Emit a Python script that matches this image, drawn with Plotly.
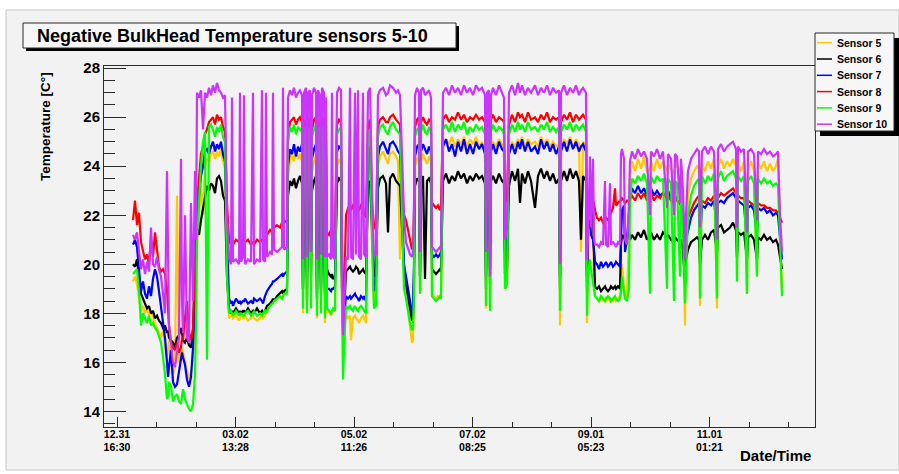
import plotly.graph_objects as go

# Elapsed logging time (log-time units; one major tick every 118.5 units)
elapsed = [
    # start-up
    16, 18, 20, 22, 24, 26, 28, 30, 32, 34, 36, 38, 40, 42,
    # unstable period
    44, 46, 48, 50, 51, 52, 54, 56, 58, 60, 62, 64, 65, 66, 68, 70, 72, 74, 76, 78, 79, 80, 82,
    # first warm period
    84, 86, 88, 90, 92, 94, 96, 98, 100, 102, 104, 106, 108, 110,
    # cool period
    112, 114, 115, 116, 119, 122, 123, 124, 126, 127, 128, 131, 134, 136, 137, 140, 143, 145, 146,
    148, 149, 150, 153, 155, 156, 157, 160, 163, 165, 166, 167, 170,
    # warm
    171, 173, 175, 177, 179, 181, 183, 185, 186, 187,
    # switching
    189, 190, 191, 193, 194, 195, 197, 199, 200, 201, 203, 204, 205, 207, 208, 209, 210, 212,
    214, 215, 216, 218, 220, 222, 224, 225, 226, 227,
    # cool
    229, 231, 233, 234, 236, 238, 239, 241, 242, 244, 246, 247, 249,
    # warm
    251, 253, 255, 257, 259, 261, 263, 266, 269, 271, 273, 276, 279, 281, 283,
    # fall
    285, 287, 289, 291, 293, 295, 296, 297,
    # warm
    298, 300, 302, 303, 304, 306, 308, 310, 312, 314,
    # short cool
    315, 317, 319, 321, 323, 324,
    # long warm
    326, 329, 332, 335, 338, 341, 344, 347, 350, 353, 356, 359, 362, 365, 368, 369, 370, 372, 373, 374,
    # warm
    376, 379, 382, 385, 387, 388, 390, 392,
    # warm
    395, 398, 401, 403, 405, 408, 411, 414, 418, 421, 424, 427, 430, 433, 436, 439, 442, 443, 444,
    # warm
    447, 450, 453, 456, 459, 462, 464, 466, 469, 470,
    # transition
    471, 473, 474, 476, 477, 478,
    # cool
    480, 482, 484, 486, 488, 489, 491, 493, 494, 496, 498, 499, 501, 503,
    # climb
    504, 505, 507, 508, 510, 512, 513,
    # mild period
    515, 518, 521, 524, 527, 530, 533, 534, 537, 540, 543, 546, 550, 551, 554, 557, 558, 560, 563, 564,
    # trough
    566, 568, 569, 571, 574, 577, 580, 582, 583,
    # mild period, end of run
    585, 588, 591, 594, 597, 600, 601, 604, 607, 610, 613, 616, 619, 620, 621, 624, 627, 630,
    631, 634, 637, 640, 641, 644, 647, 650, 653, 656, 659, 661, 663, 665,
]

sensor5 = [
    19.3, 19.5, 19.2, 18.6, 18.1, 18.3, 18.0, 18.2, 17.9, 18.1, 17.8, 17.6, 17.4, 17.2,
    17.0, 17.3, 16.8, 16.2, 16.5, 16.9, 16.0, 15.5, 15.8, 22.8, 16.0, 16.2, 16.6, 16.4, 16.0, 15.6, 15.3, 15.6, 16.2, 17.5, 19.5, 20.8, 22.0,
    23.2, 22.0, 24.0, 24.3, 24.2, 24.5, 24.6, 24.3, 24.6, 24.4, 24.7, 24.2, 23.9, 20.0,
    17.8, 17.9, 18.0, 17.8, 17.9, 17.7, 17.8, 17.9, 17.8, 17.8, 17.9, 17.7, 17.8, 17.9, 17.8, 17.7, 17.8, 17.9, 17.8,
    17.9, 18.0, 18.1, 18.3, 18.4, 18.5, 18.5, 18.6, 18.7, 18.6, 18.7, 18.8, 18.9,
    23.5, 24.3, 24.5, 24.2, 24.6, 24.3, 24.5, 24.2, 18.0, 24.0,
    24.3, 18.1, 24.1, 24.4, 19.0, 23.8, 24.2, 24.4, 17.8, 24.3, 24.5, 18.2, 24.2, 24.4, 17.6, 23.9, 18.0, 18.1,
    17.9, 18.0, 18.1, 18.2, 24.0, 24.3, 24.1, 18.5, 17.2, 17.5,
    17.9, 17.8, 17.9, 16.9, 17.8, 17.9, 17.8, 17.7, 17.6, 17.8, 17.9, 17.8, 17.6,
    24.0, 24.3, 21.0, 18.3, 18.4, 24.0, 24.4, 24.6, 24.3, 24.1, 24.5, 24.6, 24.4, 24.2, 20.2,
    22.0, 19.5, 18.8, 18.2, 17.6, 16.8, 16.9, 19.0,
    24.0, 24.3, 24.4, 18.8, 24.2, 24.5, 24.3, 24.1, 24.4, 24.2,
    18.8, 18.7, 18.6, 18.7, 18.6, 18.8,
    24.8, 25.1, 24.9, 25.2, 24.8, 25.1, 24.9, 25.2, 24.8, 25.1, 24.9, 25.2, 24.8, 25.0, 24.6, 18.2, 24.7, 24.9, 18.5, 24.8,
    25.0, 24.8, 25.1, 24.9, 24.7, 19.0, 19.2, 24.5,
    25.0, 24.8, 25.1, 24.9, 25.2, 24.8, 25.1, 24.9, 25.0, 24.8, 25.2, 24.9, 25.1, 24.8, 25.0, 24.8, 24.9, 17.5, 24.7,
    25.1, 24.9, 25.2, 24.8, 25.1, 24.9, 20.5, 25.0, 24.8, 17.6,
    21.0, 22.0, 21.5, 21.2, 19.5, 18.7,
    18.6, 18.5, 18.6, 18.5, 18.6, 18.5, 18.6, 18.5, 18.6, 18.5, 18.6, 18.5, 18.6, 18.7,
    19.5, 20.0, 19.0, 18.6, 18.8, 21.0, 23.5,
    24.2, 23.8, 24.3, 23.9, 24.4, 23.8, 23.9, 24.2, 23.8, 24.3, 23.9, 24.2, 23.8, 24.1, 23.9, 23.7, 24.1, 24.0, 23.8, 24.0,
    22.0, 17.5, 20.5, 22.8, 23.5, 23.8, 24.0, 23.9, 18.3,
    24.1, 23.8, 24.2, 23.9, 24.3, 18.2, 24.0, 24.3, 23.9, 24.2, 24.0, 24.3, 24.0, 19.3, 24.1, 23.8, 24.2, 18.8,
    23.9, 24.2, 23.8, 19.5, 24.1, 23.9, 24.2, 23.8, 24.1, 23.8, 24.0, 24.3, 21.5, 19.0,
]

sensor6 = [
    20.0, 19.9, 20.2, 19.5, 18.8, 18.6, 18.4, 18.2, 18.3, 18.0, 18.1, 17.8, 17.9, 17.7,
    17.6, 17.4, 17.5, 17.2, 17.3, 17.0, 16.9, 16.8, 16.6, 17.0, 17.1, 17.4, 17.2, 16.9, 16.8, 17.0, 16.7, 16.6, 17.2, 19.5, 21.3, 21.5, 21.2,
    21.8, 22.3, 22.8, 23.2, 23.0, 23.3, 23.2, 22.9, 23.5, 23.6, 23.4, 22.8, 22.6, 19.5,
    18.2, 18.0, 18.1, 18.0, 18.2, 18.0, 18.1, 18.0, 18.1, 18.1, 18.0, 18.2, 18.0, 18.1, 18.0, 18.2, 18.0, 18.1, 18.0,
    18.1, 18.2, 18.3, 18.4, 18.5, 18.6, 18.5, 18.7, 18.8, 18.9, 18.8, 18.9, 19.0,
    22.8, 23.4, 23.2, 23.5, 23.1, 23.4, 23.6, 23.3, 19.0, 23.2,
    23.4, 18.5, 23.3, 23.5, 19.5, 23.0, 23.4, 23.6, 18.6, 23.5, 23.2, 18.8, 23.3, 23.5, 18.7, 23.0, 19.8, 19.6,
    19.5, 19.6, 19.4, 19.5, 23.3, 23.5, 23.4, 19.0, 17.6, 18.0,
    19.7, 19.8, 19.9, 19.8, 19.7, 19.8, 19.9, 19.8, 19.6, 19.7, 19.8, 19.7, 19.6,
    23.2, 23.4, 21.5, 19.5, 19.6, 23.1, 23.5, 23.6, 23.3, 21.3, 23.5, 23.7, 23.4, 23.3, 23.2,
    21.5, 19.8, 19.2, 18.7, 18.2, 17.7, 17.8, 19.5,
    23.2, 23.5, 23.4, 19.5, 23.3, 23.6, 19.4, 23.4, 23.5, 23.3,
    19.8, 19.7, 19.6, 19.7, 19.8, 19.7,
    23.4, 23.7, 23.3, 23.6, 23.4, 23.8, 23.5, 23.7, 23.3, 23.6, 23.4, 23.7, 23.5, 23.6, 23.3, 19.0, 23.4, 23.5, 19.2, 23.4,
    23.6, 23.3, 23.7, 23.4, 23.3, 19.6, 19.8, 23.2,
    23.8, 23.4, 23.9, 22.5, 23.7, 23.3, 23.8, 23.4, 22.3, 23.6, 23.9, 23.5, 23.8, 23.4, 23.7, 23.3, 23.5, 19.0, 23.4,
    23.8, 23.4, 23.9, 23.5, 23.8, 23.4, 21.0, 23.6, 23.4, 19.0,
    22.2, 22.4, 22.1, 22.3, 20.5, 19.1,
    19.0, 19.1, 18.9, 19.0, 19.1, 19.0, 18.9, 19.0, 19.1, 19.0, 19.1, 19.0, 19.1, 19.0,
    20.8, 21.2, 21.1, 21.0, 21.2, 21.3, 21.0,
    21.2, 21.0, 21.3, 21.1, 21.4, 21.0, 21.2, 21.3, 21.0, 21.2, 21.0, 21.3, 21.1, 21.2, 21.0, 20.9, 21.1, 21.0, 20.9, 21.0,
    20.6, 19.2, 20.2, 20.6, 20.9, 21.0, 21.1, 21.0, 20.0,
    21.0, 21.2, 21.0, 21.3, 21.4, 20.5, 21.5, 21.6, 21.3, 21.4, 21.5, 21.7, 21.4, 20.3, 21.3, 21.2, 21.3, 20.2,
    21.1, 21.2, 21.0, 20.2, 21.1, 21.0, 21.2, 21.0, 21.1, 20.9, 21.0, 20.8, 20.2, 19.8,
]

sensor7 = [
    20.8, 21.0, 20.7, 19.6, 18.9, 19.3, 18.8, 18.6, 19.1, 18.7, 19.4, 19.8, 19.5, 18.9,
    18.2, 17.6, 17.0, 16.0, 15.4, 15.8, 16.5, 15.2, 15.0, 15.1, 15.6, 16.0, 16.4, 16.2, 15.9, 15.3, 15.0, 15.4, 16.6, 18.5, 20.5, 21.8, 22.8,
    23.6, 24.0, 24.6, 24.7, 24.5, 24.8, 25.0, 24.6, 24.9, 24.7, 25.0, 24.5, 24.2, 21.0,
    18.6, 18.4, 18.5, 18.3, 18.6, 18.4, 18.5, 18.4, 18.5, 18.5, 18.6, 18.4, 18.5, 18.4, 18.6, 18.5, 18.6, 18.5, 18.4,
    18.7, 18.8, 18.9, 19.1, 19.2, 19.3, 19.3, 19.4, 19.5, 19.6, 19.5, 19.6, 19.7,
    24.0, 24.7, 24.5, 24.9, 24.4, 24.8, 24.6, 24.9, 19.0, 24.6,
    24.8, 19.5, 24.7, 24.9, 20.5, 24.3, 24.7, 24.9, 18.8, 24.8, 24.5, 19.0, 24.7, 24.9, 18.9, 24.4, 19.0, 19.0,
    18.9, 19.0, 19.0, 19.1, 24.6, 24.8, 24.7, 19.5, 17.3, 17.8,
    18.7, 18.6, 18.7, 18.6, 18.7, 18.8, 18.7, 18.6, 18.5, 18.7, 18.6, 18.7, 18.5,
    24.5, 24.8, 22.0, 18.9, 19.3, 24.4, 24.8, 25.0, 24.7, 24.5, 24.9, 25.0, 24.8, 24.6, 24.5,
    22.0, 20.0, 19.5, 19.0, 18.5, 18.0, 18.1, 20.0,
    24.4, 24.8, 24.9, 19.5, 24.6, 24.9, 24.7, 24.5, 24.8, 24.6,
    20.4, 20.3, 20.4, 20.3, 20.4, 20.5,
    24.8, 25.1, 24.6, 24.9, 24.4, 25.0, 24.6, 25.1, 24.5, 24.9, 24.5, 25.0, 24.7, 24.9, 24.5, 19.5, 24.7, 24.8, 19.8, 24.6,
    24.9, 24.5, 25.0, 24.7, 24.6, 20.5, 20.8, 24.5,
    24.9, 24.5, 25.0, 24.7, 25.1, 24.6, 25.0, 24.6, 24.8, 24.5, 25.1, 24.7, 25.0, 24.6, 24.9, 24.5, 24.8, 19.5, 24.6,
    25.0, 24.6, 25.1, 24.7, 25.0, 24.6, 24.8, 24.9, 24.6, 19.5,
    21.5, 21.8, 21.2, 21.0, 20.5, 20.1,
    20.0, 19.8, 20.1, 19.9, 20.0, 20.1, 19.9, 20.0, 20.1, 19.9, 20.0, 20.1, 20.0, 19.9,
    21.0, 22.2, 22.4, 20.5, 21.0, 22.0, 22.6,
    23.1, 22.9, 23.2, 22.9, 23.1, 22.8, 23.0, 23.1, 22.8, 23.0, 22.8, 22.9, 22.8, 23.0, 22.7, 22.6, 22.8, 22.6, 22.5, 22.4,
    21.5, 20.2, 21.0, 21.4, 21.9, 22.2, 22.4, 22.5, 21.0,
    22.4, 22.3, 22.5, 22.4, 22.6, 21.5, 22.5, 22.6, 22.5, 22.7, 22.8, 22.9, 22.7, 21.2, 22.6, 22.5, 22.4, 21.0,
    22.3, 22.4, 22.2, 21.2, 22.3, 22.2, 22.3, 22.1, 22.2, 22.0, 22.1, 22.0, 21.0, 20.2,
]

sensor8 = [
    21.8, 22.6, 21.6, 22.1, 20.9, 20.5, 20.2, 20.4, 20.0, 21.0, 20.3, 21.3, 20.6, 19.9,
    19.7, 19.8, 19.6, 19.0, 18.2, 17.5, 16.8, 16.6, 16.5, 16.8, 16.4, 16.6, 17.0, 16.9, 17.8, 18.5, 17.2, 16.9, 17.4, 20.5, 22.0, 22.6, 23.5,
    24.5, 24.8, 25.3, 25.5, 25.8, 25.9, 26.0, 25.7, 26.1, 25.9, 26.0, 25.6, 25.4, 22.5,
    21.0, 20.8, 20.9, 20.8, 21.0, 20.9, 21.0, 20.8, 20.9, 21.0, 20.9, 21.0, 20.8, 20.9, 20.8, 21.0, 20.9, 21.0, 20.9,
    21.0, 21.1, 21.2, 21.4, 21.3, 21.4, 21.5, 21.6, 21.5, 21.7, 21.6, 21.7, 21.8,
    25.2, 25.8, 25.9, 26.0, 25.7, 25.9, 26.0, 25.8, 21.0, 25.7,
    25.9, 21.2, 25.8, 26.0, 22.5, 25.5, 25.9, 26.0, 21.0, 25.9, 25.8, 21.3, 26.0, 25.9, 21.2, 25.6, 21.3, 21.2,
    21.4, 21.3, 21.2, 21.4, 25.7, 25.9, 25.8, 21.0, 17.5, 18.5,
    22.0, 22.3, 22.4, 22.2, 22.4, 22.3, 22.5, 22.3, 22.2, 22.4, 22.3, 22.1, 21.9,
    25.7, 25.9, 22.5, 21.6, 21.4, 25.6, 25.9, 26.0, 25.8, 25.8, 26.0, 26.1, 25.9, 25.8, 25.7,
    23.0, 22.0, 21.8, 21.4, 21.0, 20.6, 20.8, 22.0,
    25.6, 25.9, 26.0, 21.5, 25.8, 26.0, 25.8, 25.7, 25.9, 25.8,
    22.5, 22.4, 22.3, 22.4, 22.2, 22.4,
    25.9, 26.1, 25.8, 26.0, 25.9, 26.2, 25.9, 26.1, 25.8, 26.0, 25.9, 26.1, 25.9, 26.0, 25.8, 21.5, 25.9, 26.0, 21.8, 25.9,
    26.1, 25.8, 26.0, 25.9, 25.8, 22.5, 22.7, 25.7,
    26.1, 25.8, 26.2, 26.0, 26.1, 25.8, 26.2, 25.9, 26.0, 25.8, 26.1, 25.9, 26.2, 25.8, 26.0, 25.9, 26.0, 21.5, 25.8,
    26.1, 25.9, 26.2, 25.8, 26.1, 25.9, 26.0, 26.1, 25.9, 21.5,
    22.8, 23.0, 22.7, 22.6, 22.5, 22.2,
    21.9, 21.8, 21.9, 21.7, 21.8, 21.9, 21.8, 22.0, 22.1, 22.3, 23.1, 22.4, 22.5, 22.6,
    22.6, 22.7, 22.6, 22.5, 22.6, 22.6, 22.8,
    22.8, 22.6, 22.9, 22.7, 22.9, 22.6, 22.8, 22.9, 22.6, 22.8, 22.7, 22.9, 22.7, 22.8, 22.6, 22.5, 22.7, 22.6, 22.5, 22.4,
    22.0, 21.6, 21.7, 21.9, 22.2, 22.5, 22.7, 22.8, 22.0,
    22.6, 22.5, 22.7, 22.6, 22.8, 22.2, 22.7, 22.9, 22.8, 22.9, 23.0, 23.1, 22.9, 22.2, 22.8, 22.7, 22.7, 22.0,
    22.6, 22.5, 22.4, 21.8, 22.5, 22.4, 22.4, 22.3, 22.3, 22.2, 22.2, 22.1, 21.9, 21.7,
]

sensor9 = [
    19.6, 19.7, 19.8, 18.9, 17.5, 18.0, 17.8, 17.6, 17.9, 17.5, 17.6, 17.4, 17.3, 17.0,
    16.8, 16.2, 15.5, 14.5, 14.6, 15.2, 15.0, 14.4, 14.6, 14.7, 14.4, 14.3, 14.6, 14.9, 14.5, 14.3, 14.1, 14.0, 14.3, 15.5, 17.5, 21.0, 22.8,
    24.0, 25.0, 25.4, 16.1, 25.6, 25.7, 25.5, 25.2, 25.6, 25.4, 25.7, 25.2, 25.0, 19.5,
    18.0, 18.1, 18.0, 17.9, 18.1, 17.9, 18.0, 18.0, 17.9, 17.9, 18.0, 18.1, 17.9, 18.0, 18.1, 17.9, 18.0, 17.9, 18.0,
    18.1, 18.0, 18.1, 18.3, 18.4, 18.4, 18.5, 18.6, 18.7, 18.6, 18.7, 18.8, 18.8,
    25.0, 25.6, 25.4, 25.7, 25.3, 25.6, 25.5, 25.4, 18.2, 25.3,
    25.6, 18.0, 25.4, 25.6, 18.2, 25.2, 25.5, 25.7, 17.9, 25.5, 25.6, 18.0, 25.4, 25.7, 17.8, 25.2, 18.2, 18.1,
    18.0, 18.1, 18.2, 18.1, 25.3, 25.5, 25.6, 18.5, 15.3, 16.5,
    18.3, 18.2, 18.3, 18.2, 18.1, 18.3, 18.2, 18.1, 18.2, 18.3, 18.2, 18.1, 18.0,
    25.3, 25.5, 21.0, 18.2, 18.3, 25.2, 25.6, 25.7, 25.4, 25.3, 25.6, 25.8, 25.5, 25.4, 25.3,
    22.0, 19.0, 18.6, 18.0, 17.6, 17.3, 17.4, 19.0,
    25.2, 25.5, 25.6, 18.8, 25.4, 25.7, 25.4, 25.3, 25.6, 25.4,
    18.7, 18.6, 18.5, 18.6, 18.7, 18.6,
    25.5, 25.7, 25.4, 25.8, 25.4, 25.7, 25.5, 25.8, 25.3, 25.6, 25.4, 25.7, 25.5, 25.6, 25.3, 18.3, 25.5, 25.6, 18.1, 25.4,
    25.7, 25.4, 25.6, 25.5, 25.3, 19.0, 19.2, 25.3,
    25.7, 25.4, 25.8, 25.5, 25.7, 25.4, 25.8, 25.5, 25.6, 25.4, 25.7, 25.5, 25.8, 25.4, 25.6, 25.4, 25.6, 18.1, 25.4,
    25.7, 25.5, 25.8, 25.4, 25.7, 25.5, 25.6, 25.7, 25.4, 17.9,
    19.5, 20.2, 19.8, 19.2, 18.8, 18.7,
    18.6, 18.5, 18.7, 18.6, 18.5, 18.6, 18.7, 18.6, 18.5, 18.6, 18.7, 18.6, 18.5, 18.6,
    18.8, 19.5, 18.8, 18.6, 18.5, 19.0, 22.5,
    23.5, 23.3, 23.6, 23.4, 23.7, 23.3, 18.8, 23.6, 23.3, 23.6, 23.4, 23.5, 19.0, 23.5, 23.3, 18.5, 23.4, 23.3, 19.5, 23.2,
    21.5, 18.4, 20.0, 22.0, 22.8, 23.2, 23.4, 23.5, 18.6,
    23.6, 23.3, 23.6, 23.4, 23.7, 18.6, 23.5, 23.8, 23.4, 23.6, 23.7, 23.8, 23.5, 19.3, 23.6, 23.4, 23.6, 18.8,
    23.4, 23.6, 23.3, 19.5, 23.5, 23.3, 23.5, 23.3, 23.4, 23.2, 23.3, 23.2, 21.0, 18.7,
]

sensor10 = [
    21.2, 21.0, 21.3, 20.4, 19.8, 20.2, 19.6, 20.1, 19.7, 21.5, 20.0, 19.9, 20.3, 19.8,
    19.5, 18.8, 18.0, 23.8, 19.0, 17.5, 16.8, 16.0, 15.8, 16.5, 17.0, 24.3, 18.5, 17.2, 22.0, 17.0, 16.8, 22.5, 18.5, 23.8, 21.0, 27.0, 26.8,
    27.1, 25.5, 27.0, 26.8, 27.2, 26.9, 27.3, 27.0, 27.4, 27.1, 27.0, 26.8, 26.9, 22.0,
    20.3, 20.0, 26.8, 20.1, 20.2, 20.0, 27.0, 20.1, 20.3, 26.9, 20.0, 20.2, 20.1, 27.0, 20.0, 20.2, 20.1, 27.1, 20.2,
    20.1, 27.0, 20.3, 20.5, 20.4, 27.0, 20.6, 20.5, 20.6, 20.7, 27.2, 20.6, 20.7,
    26.8, 27.1, 26.9, 27.2, 26.8, 27.0, 27.1, 26.9, 20.2, 27.0,
    27.2, 20.3, 27.0, 27.1, 20.5, 26.9, 27.2, 27.0, 20.2, 27.1, 26.9, 20.4, 27.2, 27.0, 20.3, 26.8, 20.3, 20.4,
    20.2, 27.0, 20.3, 20.2, 27.0, 27.2, 27.1, 20.5, 17.1, 18.0,
    20.3, 20.2, 27.2, 20.3, 20.2, 27.0, 20.4, 27.1, 20.3, 20.2, 27.0, 20.4, 20.3,
    27.0, 27.2, 23.0, 20.3, 20.4, 26.9, 27.1, 27.2, 26.9, 27.0, 27.3, 27.2, 27.0, 27.1, 26.9,
    24.0, 22.0, 20.9, 20.6, 20.4, 20.3, 20.5, 22.5,
    26.9, 27.2, 27.0, 20.5, 27.1, 27.2, 26.9, 27.0, 27.1, 26.8,
    20.7, 20.6, 20.5, 20.6, 20.7, 20.6,
    27.0, 27.2, 26.9, 27.3, 27.0, 27.2, 26.9, 27.3, 27.0, 27.2, 26.9, 27.3, 27.1, 27.2, 26.9, 20.5, 27.0, 27.1, 19.5, 26.9,
    27.2, 26.9, 27.3, 27.0, 26.8, 21.0, 21.5, 27.0,
    27.3, 26.9, 27.4, 27.0, 27.3, 26.9, 27.2, 27.0, 27.3, 26.9, 27.2, 27.0, 27.3, 26.9, 27.2, 27.0, 27.1, 20.0, 27.0,
    27.3, 26.9, 27.2, 27.0, 27.3, 26.9, 27.1, 27.2, 27.0, 20.2,
    21.0, 24.4, 21.5, 24.3, 21.0, 20.8,
    20.8, 20.7, 20.9, 20.8, 23.4, 20.8, 20.7, 23.3, 20.8, 20.9, 20.8, 20.7, 20.9, 20.8,
    24.5, 24.7, 24.3, 21.0, 20.8, 22.5, 24.2,
    24.6, 24.3, 24.7, 24.4, 24.6, 24.3, 22.0, 24.6, 24.4, 24.7, 24.3, 24.6, 22.3, 24.5, 24.3, 22.0, 24.5, 24.4, 22.5, 24.3,
    23.0, 20.2, 22.0, 23.8, 24.3, 24.5, 24.7, 24.6, 21.5,
    24.6, 24.8, 24.5, 24.8, 24.6, 21.0, 24.7, 24.9, 24.6, 24.8, 24.9, 25.0, 24.7, 21.5, 24.8, 24.6, 24.7, 21.3,
    24.6, 24.7, 24.5, 21.8, 24.6, 24.5, 24.7, 24.5, 24.6, 24.4, 24.5, 24.6, 22.0, 20.5,
]

tick_at = [0, 118.5, 237, 355.5, 474, 592.5]
tick_labels = ["12.31<br>16:30", "03.02<br>13:28", "05.02<br>11:26",
               "07.02<br>08:25", "09.01<br>05:23", "11.01<br>01:21"]
sensor_names = ["Sensor 5", "Sensor 6", "Sensor 7", "Sensor 8", "Sensor 9", "Sensor 10"]
sensor_colors = ["#ffc800", "#000000", "#0000ff", "#ff0000", "#00ff00", "#cc33ff"]
series = [sensor5, sensor6, sensor7, sensor8, sensor9, sensor10]

for s in series:
    assert len(s) == len(elapsed), (len(s), len(elapsed))

# Canvas geometry (pixels)
W, H = 899, 474
ML, MR, MT, MB = 104, 84, 66, 47
PW = W - ML - MR
PH = H - MT - MB


def fx(px):
    return (px - ML) / PW


def fy(py):
    return (H - MB - py) / PH


FONT = "Liberation Sans, Arial, Helvetica, sans-serif"
CANVAS = "#f2f2f2"
AXIS = "#2a2a2a"

fig = go.Figure()
for name, color, vals in zip(sensor_names, sensor_colors, series):
    fig.add_trace(go.Scatter(
        x=elapsed, y=vals, name=name, mode="lines",
        line=dict(color=color, width=2.2), showlegend=False, hoverinfo="skip",
    ))

fig.update_layout(
    width=W, height=H, autosize=False,
    margin=dict(l=ML, r=MR, t=MT, b=MB, pad=0),
    paper_bgcolor="white", plot_bgcolor=CANVAS,
    showlegend=False,
    font=dict(family=FONT, color="black"),
)

fig.update_xaxes(
    range=[-13, 698], tickmode="array", tickvals=tick_at, ticktext=tick_labels,
    ticks="inside", ticklen=10, tickwidth=1, tickcolor=AXIS,
    showline=True, linecolor=AXIS, linewidth=1, mirror=True,
    showgrid=False, zeroline=False, ticklabelstandoff=-3,
    tickfont=dict(family=FONT, size=10.5, weight="bold", color="black"),
    minor=dict(tickmode="linear", tick0=0, dtick=39.5, ticks="inside",
               ticklen=5, tickwidth=1, tickcolor=AXIS, showgrid=False),
)
fig.update_yaxes(
    range=[13.36, 28.09], tickmode="linear", tick0=14, dtick=2,
    ticks="inside", ticklen=22, tickwidth=1, tickcolor=AXIS,
    showline=True, linecolor=AXIS, linewidth=1, mirror=True,
    showgrid=False, zeroline=False,
    tickfont=dict(family=FONT, size=15, weight="bold", color="black"),
    minor=dict(tickmode="linear", tick0=14, dtick=0.5, ticks="inside",
               ticklen=11, tickwidth=1, tickcolor=AXIS, showgrid=False),
)

shapes = [
    # canvas
    dict(type="rect", xref="paper", yref="paper", layer="below",
         x0=fx(6), x1=fx(899), y0=fy(470), y1=fy(10),
         fillcolor=CANVAS, line=dict(color="#c4c4c4", width=1)),
    # title box with drop shadow
    dict(type="rect", xref="paper", yref="paper", layer="above",
         x0=fx(26), x1=fx(459), y0=fy(51), y1=fy(26),
         fillcolor="black", line=dict(width=0)),
    dict(type="rect", xref="paper", yref="paper", layer="above",
         x0=fx(23), x1=fx(456), y0=fy(48), y1=fy(23),
         fillcolor="#f7f7f7", line=dict(color=AXIS, width=1)),
    # legend box with drop shadow
    dict(type="rect", xref="paper", yref="paper", layer="above",
         x0=fx(820), x1=fx(899), y0=fy(136), y1=fy(38),
         fillcolor="black", line=dict(width=0)),
    dict(type="rect", xref="paper", yref="paper", layer="above",
         x0=fx(815), x1=fx(894), y0=fy(131), y1=fy(33),
         fillcolor="#f7f7f7", line=dict(color=AXIS, width=1)),
]

annotations = [
    dict(text="<b>Negative BulkHead Temperature sensors 5-10</b>",
         xref="paper", yref="paper", x=fx(35), y=fy(35.5),
         xanchor="left", yanchor="middle", showarrow=False,
         font=dict(family=FONT, size=18, color="black")),
    dict(text="<b>Temperature [C°]</b>", textangle=-90,
         xref="paper", yref="paper", x=fx(45.5), y=fy(70),
         xanchor="center", yanchor="top", showarrow=False,
         font=dict(family=FONT, size=13.5, color="black")),
    dict(text="<b>Date/Time</b>",
         xref="paper", yref="paper", x=fx(813), y=fy(456),
         xanchor="right", yanchor="middle", showarrow=False,
         font=dict(family=FONT, size=15, color="black")),
]

# legend entries
for i, (name, color) in enumerate(zip(sensor_names, sensor_colors)):
    yc = 42.7 + i * 16.3
    shapes.append(dict(type="line", xref="paper", yref="paper", layer="above",
                       x0=fx(817), x1=fx(832), y0=fy(yc), y1=fy(yc),
                       line=dict(color=color, width=1.5)))
    annotations.append(dict(text=f"<b>{name}</b>", xref="paper", yref="paper",
                            x=fx(835), y=fy(yc), xanchor="left", yanchor="middle",
                            showarrow=False,
                            font=dict(family=FONT, size=10.5, color="black")))

fig.update_layout(shapes=shapes, annotations=annotations)

fig.write_html("out.html", config={"displayModeBar": False})
